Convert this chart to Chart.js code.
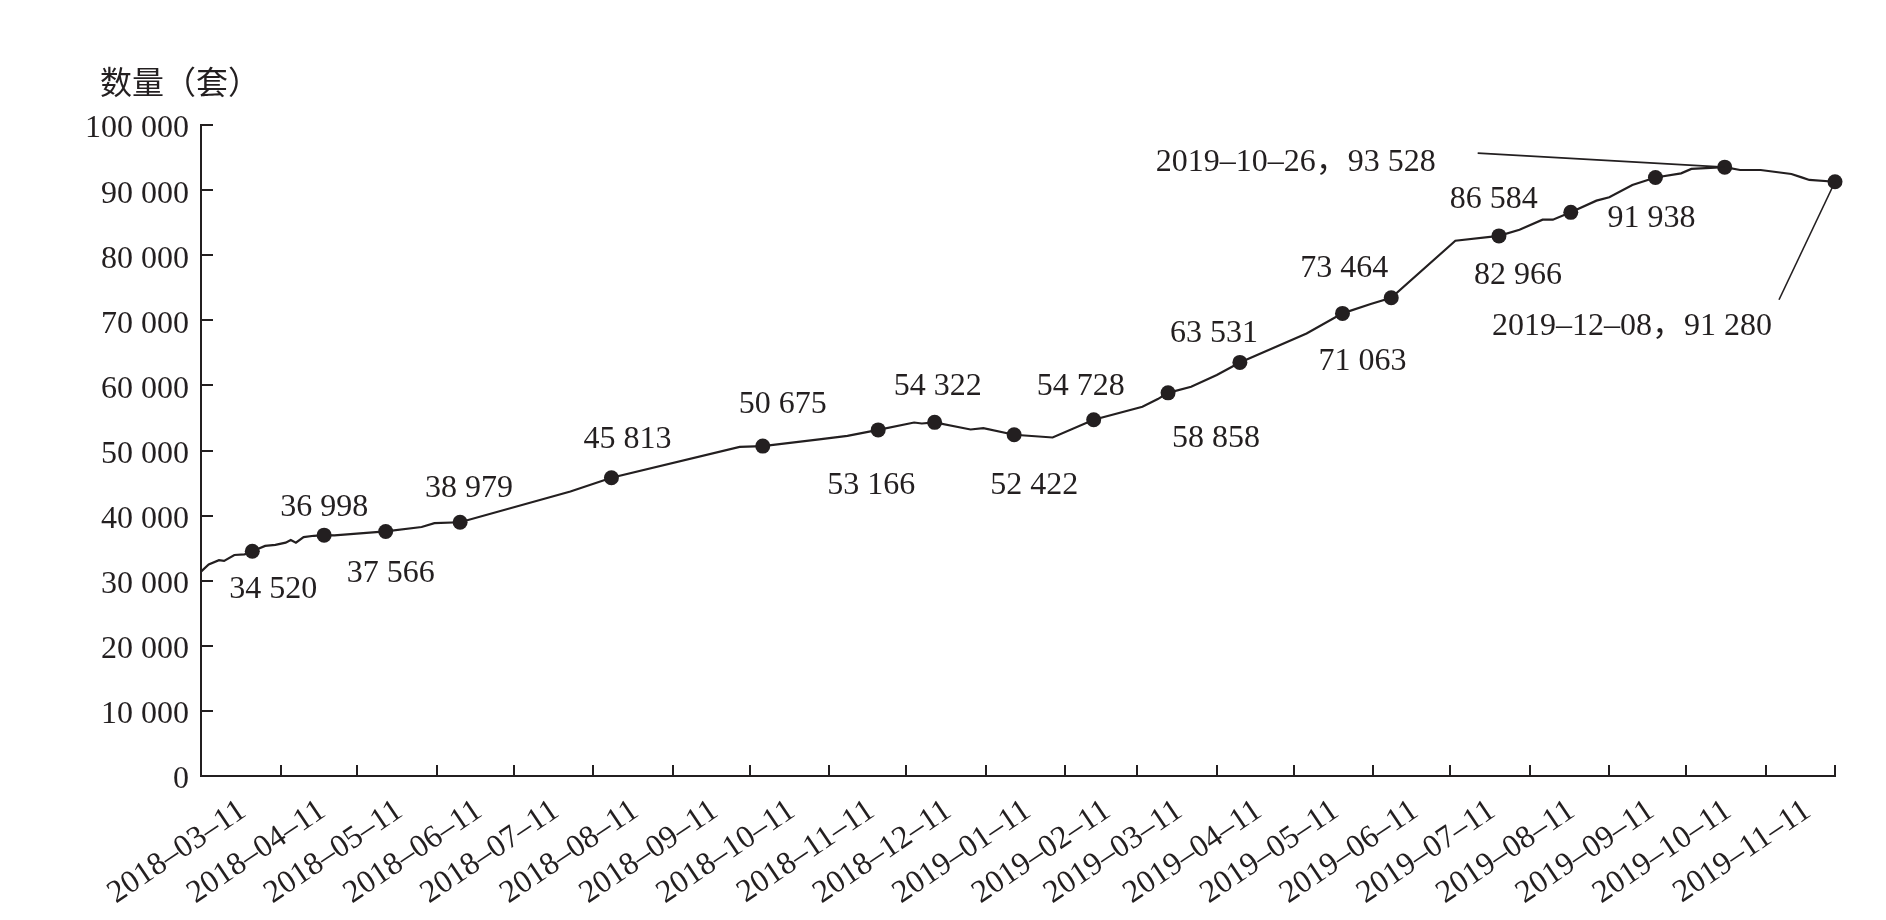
<!DOCTYPE html>
<html>
<head>
<meta charset="utf-8">
<script src="https://cdn.jsdelivr.net/npm/chart.js@4.4.1/dist/chart.umd.min.js"></script>
<style>
  html, body { margin: 0; padding: 0; background: #fff; }
  canvas { display: block; }
</style>
</head>
<body>
<canvas id="chart" width="1886" height="920"></canvas>
<script>
// line data (marked points carry the printed values)
const dates = [
  '2018-03-11', '2018-03-14', '2018-03-18', '2018-03-20', '2018-03-24', '2018-03-28', '2018-03-31',
  '2018-04-05', '2018-04-09', '2018-04-13', '2018-04-15', '2018-04-17', '2018-04-20', '2018-04-24',
  '2018-04-28', '2018-05-02', '2018-05-22', '2018-06-05', '2018-06-10', '2018-06-20', '2018-08-02',
  '2018-08-18', '2018-10-07', '2018-10-16', '2018-11-07', '2018-11-18', '2018-11-30', '2018-12-14',
  '2018-12-17', '2018-12-22', '2019-01-05', '2019-01-10', '2019-01-22', '2019-02-06', '2019-02-22',
  '2019-03-13', '2019-03-19', '2019-03-23', '2019-04-01', '2019-04-11', '2019-04-20', '2019-05-16',
  '2019-05-30', '2019-06-10', '2019-06-18', '2019-07-13', '2019-07-30', '2019-08-07', '2019-08-16',
  '2019-08-20', '2019-08-27', '2019-09-06', '2019-09-11', '2019-09-20', '2019-09-29', '2019-10-09',
  '2019-10-13', '2019-10-26', '2019-11-01', '2019-11-09', '2019-11-21', '2019-11-25', '2019-11-28',
  '2019-12-08'
];
const values = [
  31400, 32500, 33150, 33050, 33950, 34050, 34520,
  35350, 35500, 35850, 36250, 35850, 36700, 36900,
  36998, 36950, 37566, 38250, 38850, 38979, 43700,
  45813, 50550, 50675, 51700, 52250, 53166, 54300,
  54150, 54322, 53230, 53440, 52422, 52000, 54728,
  56720, 57900, 58858, 59790, 61600, 63531, 67980,
  71063, 72500, 73464, 82230, 82966, 83920, 85460,
  85460, 86584, 88380, 88890, 90790, 91938, 92570,
  93250, 93528, 93090, 93090, 92480, 91960, 91560,
  91280
];
const markedDates = [
  '2018-03-31', '2018-04-28', '2018-05-22', '2018-06-20', '2018-08-18', '2018-10-16', '2018-11-30',
  '2018-12-22', '2019-01-22', '2019-02-22', '2019-03-23', '2019-04-20', '2019-05-30', '2019-06-18',
  '2019-07-30', '2019-08-27', '2019-09-29', '2019-10-26', '2019-12-08'
];
const calloutDates = ['2019-10-26', '2019-12-08'];
const tickLabels = [
  '2018–03–11', '2018–04–11', '2018–05–11', '2018–06–11', '2018–07–11', '2018–08–11', '2018–09–11',
  '2018–10–11', '2018–11–11', '2018–12–11', '2019–01–11', '2019–02–11', '2019–03–11', '2019–04–11',
  '2019–05–11', '2019–06–11', '2019–07–11', '2019–08–11', '2019–09–11', '2019–10–11', '2019–11–11'
];
const lastDate = '2019-12-08';
const yTitle = '数量（套）';

// label placement (pixels from the marker)
const labelOffsets = {
  '2018-03-31': [21, 36], '2018-04-28': [0, -30], '2018-05-22': [5, 40], '2018-06-20': [9, -36],
  '2018-08-18': [16, -41], '2018-10-16': [20, -44], '2018-11-30': [-7, 53], '2018-12-22': [3, -38],
  '2019-01-22': [20, 48], '2019-02-22': [-13, -36], '2019-03-23': [48, 43], '2019-04-20': [-26, -31],
  '2019-05-30': [20, 46], '2019-06-18': [-47, -32], '2019-07-30': [19, 37], '2019-08-27': [-77, -15],
  '2019-09-29': [-4, 39]
};
const calloutStyle = {
  '2019-10-26': {text: [-289, -7], align: 'right', lead: [-247, -14]},
  '2019-12-08': {text: [-343, 142], align: 'left', lead: [-56, 118]}
};

const INK = '#231f20';
const FONT = "'Liberation Serif', 'Times New Roman', 'Noto Sans CJK SC', serif";
const CJK = "'Noto Sans CJK SC', sans-serif";

function dayNum(s) {
  const p = s.replace(/–/g, '-').split('-').map(Number);
  return Date.UTC(p[0], p[1] - 1, p[2]) / 86400000;
}
const day0 = dayNum(tickLabels[0]);
const toX = s => dayNum(s) - day0;
const fmt = v => String(v).replace(/\B(?=(\d{3})+(?!\d))/g, ' ');
const marked = new Set(markedDates);
const points = dates.map((d, i) => ({x: toX(d), y: values[i]}));

// short tick marks pointing into the plot
const innerTicks = {
  id: 'innerTicks',
  afterDatasetsDraw(chart) {
    const {ctx, chartArea: a, scales: {x, y}} = chart;
    ctx.save();
    ctx.strokeStyle = INK;
    ctx.lineWidth = 2;
    ctx.beginPath();
    y.ticks.forEach(t => {
      if (t.value === 0) return;
      const py = Math.round(y.getPixelForValue(t.value));
      ctx.moveTo(a.left, py);
      ctx.lineTo(a.left + 12, py);
    });
    x.ticks.forEach(t => {
      if (t.value === 0) return;
      const px = Math.round(x.getPixelForValue(t.value));
      ctx.moveTo(px, a.bottom);
      ctx.lineTo(px, a.bottom - 11);
    });
    ctx.stroke();
    ctx.restore();
  }
};

// unit caption above the y axis
const unitTitle = {
  id: 'unitTitle',
  afterDraw(chart) {
    const ctx = chart.ctx;
    ctx.save();
    ctx.fillStyle = INK;
    ctx.font = '32px ' + CJK;
    ctx.textAlign = 'left';
    ctx.textBaseline = 'middle';
    ctx.fillText(yTitle, chart.chartArea.left - 101, chart.chartArea.top - 43);
    ctx.restore();
  }
};

// value labels and the two callouts
const pointLabels = {
  id: 'pointLabels',
  afterDatasetsDraw(chart) {
    const ctx = chart.ctx;
    const meta = chart.getDatasetMeta(0);
    ctx.save();
    ctx.fillStyle = INK;
    ctx.strokeStyle = INK;
    ctx.lineWidth = 1.6;
    ctx.font = '32px ' + FONT;
    ctx.textBaseline = 'alphabetic';
    meta.data.forEach((el, i) => {
      const d = dates[i];
      const off = labelOffsets[d];
      if (off) {
        ctx.textAlign = 'center';
        ctx.fillText(fmt(values[i]), el.x + off[0], el.y + off[1] + 11);
      }
      if (calloutDates.includes(d)) {
        const c = calloutStyle[d];
        ctx.beginPath();
        ctx.moveTo(el.x, el.y);
        ctx.lineTo(el.x + c.lead[0], el.y + c.lead[1]);
        ctx.stroke();
        ctx.textAlign = c.align;
        ctx.fillText(d.replace(/-/g, '–') + '，' + fmt(values[i]), el.x + c.text[0], el.y + c.text[1] + 11);
      }
    });
    ctx.restore();
  }
};

new Chart(document.getElementById('chart'), {
  type: 'line',
  data: {
    datasets: [{
      data: points,
      borderColor: INK,
      borderWidth: 2.2,
      tension: 0,
      clip: false,
      pointRadius: ctx => marked.has(dates[ctx.dataIndex]) ? 7.5 : 0,
      pointBackgroundColor: INK,
      pointBorderWidth: 0,
      pointHoverRadius: 0
    }]
  },
  options: {
    responsive: false,
    animation: false,
    devicePixelRatio: 1,
    layout: { padding: { left: 0, right: 51, top: 125, bottom: 0 } },
    plugins: {
      legend: { display: false },
      tooltip: { enabled: false }
    },
    scales: {
      x: {
        type: 'linear',
        min: 0,
        max: toX(lastDate),
        grid: { display: false },
        border: { display: true, color: INK, width: 2 },
        afterBuildTicks: s => {
          s.ticks = tickLabels.map(t => ({value: toX(t)})).concat([{value: toX(lastDate)}]);
        },
        afterFit: s => { s.height = 144; },
        ticks: {
          autoSkip: false,
          minRotation: 34,
          maxRotation: 34,
          labelOffset: 42,
          padding: 8,
          color: INK,
          font: { family: FONT, size: 32 },
          callback: (v, i) => tickLabels[i] || ''
        }
      },
      y: {
        min: 0,
        max: 100000,
        grid: { display: false },
        border: { display: true, color: INK, width: 2 },
        afterFit: s => { s.width = 201; },
        ticks: {
          stepSize: 10000,
          padding: 4,
          labelOffset: 4,
          color: INK,
          font: { family: FONT, size: 32 },
          callback: v => fmt(v)
        }
      }
    }
  },
  plugins: [innerTicks, pointLabels, unitTitle]
});
</script>
</body>
</html>
